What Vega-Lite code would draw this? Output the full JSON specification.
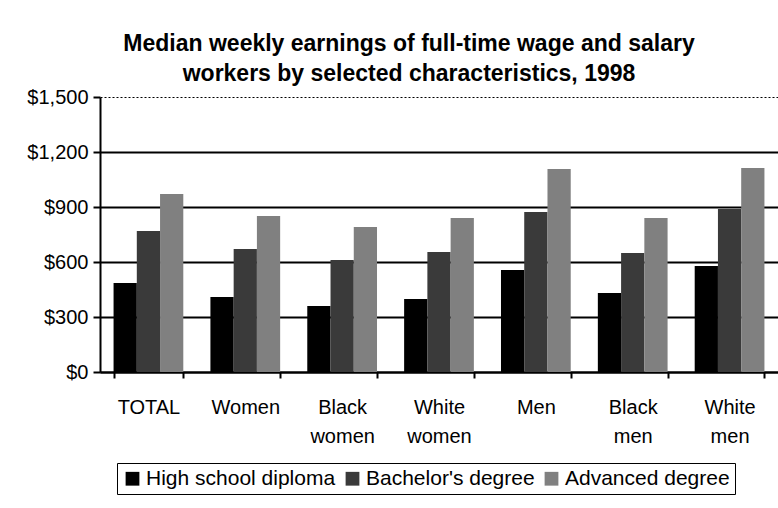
{
  "$schema": "https://vega.github.io/schema/vega-lite/v6.json",
  "width": 678,
  "height": 275,
  "autosize": {"type": "none"},
  "padding": {"left": 100, "top": 97, "right": 0, "bottom": 136},
  "background": "white",
  "title": {
    "text": ["Median weekly earnings of full-time wage and salary", "workers by selected characteristics, 1998"],
    "font": "Liberation Sans",
    "fontSize": 23,
    "fontWeight": "bold",
    "color": "black",
    "anchor": "middle",
    "dx": -30,
    "lineHeight": 30,
    "offset": 1
  },
  "data": {
    "values": [
      {"group": "TOTAL", "degree": "High school diploma", "earnings": 485},
      {"group": "TOTAL", "degree": "Bachelor's degree", "earnings": 769},
      {"group": "TOTAL", "degree": "Advanced degree", "earnings": 971},
      {"group": "Women", "degree": "High school diploma", "earnings": 409},
      {"group": "Women", "degree": "Bachelor's degree", "earnings": 671},
      {"group": "Women", "degree": "Advanced degree", "earnings": 851},
      {"group": "Black women", "degree": "High school diploma", "earnings": 360},
      {"group": "Black women", "degree": "Bachelor's degree", "earnings": 611},
      {"group": "Black women", "degree": "Advanced degree", "earnings": 791},
      {"group": "White women", "degree": "High school diploma", "earnings": 398},
      {"group": "White women", "degree": "Bachelor's degree", "earnings": 655},
      {"group": "White women", "degree": "Advanced degree", "earnings": 840},
      {"group": "Men", "degree": "High school diploma", "earnings": 556},
      {"group": "Men", "degree": "Bachelor's degree", "earnings": 873},
      {"group": "Men", "degree": "Advanced degree", "earnings": 1107},
      {"group": "Black men", "degree": "High school diploma", "earnings": 431},
      {"group": "Black men", "degree": "Bachelor's degree", "earnings": 649},
      {"group": "Black men", "degree": "Advanced degree", "earnings": 840},
      {"group": "White men", "degree": "High school diploma", "earnings": 578},
      {"group": "White men", "degree": "Bachelor's degree", "earnings": 889},
      {"group": "White men", "degree": "Advanced degree", "earnings": 1113}
    ]
  },
  "mark": {"type": "bar"},
  "encoding": {
    "x": {
      "field": "group",
      "type": "nominal",
      "sort": ["TOTAL", "Women", "Black women", "White women", "Men", "Black men", "White men"],
      "scale": {"paddingInner": 0.28, "paddingOuter": 0.14},
      "axis": {
        "title": null,
        "labelAngle": 0,
        "labelFont": "Liberation Sans",
        "labelFontSize": 20,
        "labelColor": "black",
        "labelExpr": "split(datum.label, ' ')",
        "labelLineHeight": 29,
        "labelPadding": 19,
        "labelBaseline": "top",
        "domainColor": "black",
        "domainWidth": 2,
        "tickColor": "black",
        "tickWidth": 2,
        "tickSize": 6,
        "tickBand": "extent"
      }
    },
    "xOffset": {
      "field": "degree",
      "type": "nominal",
      "sort": ["High school diploma", "Bachelor's degree", "Advanced degree"]
    },
    "y": {
      "field": "earnings",
      "type": "quantitative",
      "scale": {"domain": [0, 1500], "nice": false},
      "axis": {
        "title": null,
        "values": [0, 300, 600, 900, 1200, 1500],
        "format": "$,d",
        "labelFont": "Liberation Sans",
        "labelFontSize": 20,
        "labelColor": "black",
        "labelPadding": 5,
        "domainColor": "black",
        "domainWidth": 2,
        "tickColor": "black",
        "tickWidth": 2,
        "tickSize": 7,
        "grid": true,
        "gridColor": "black",
        "gridOpacity": 1,
        "gridWidth": {"condition": {"test": "datum.value === 1500", "value": 1}, "value": 2},
        "gridDash": {"condition": {"test": "datum.value === 1500", "value": [2, 2]}, "value": []}
      }
    },
    "color": {
      "field": "degree",
      "type": "nominal",
      "sort": ["High school diploma", "Bachelor's degree", "Advanced degree"],
      "scale": {
        "domain": ["High school diploma", "Bachelor's degree", "Advanced degree"],
        "range": ["#000000", "#3a3a3a", "#808080"]
      },
      "legend": {
        "title": null,
        "orient": "none",
        "direction": "horizontal",
        "legendX": 17,
        "legendY": 366,
        "symbolType": "square",
        "symbolSize": 190,
        "symbolStrokeWidth": 0,
        "symbolOffset": 0,
        "labelFont": "Liberation Sans",
        "labelFontSize": 21,
        "labelLimit": 400,
        "labelColor": "black",
        "labelOffset": 3,
        "columnPadding": 6,
        "strokeColor": "black",
        "padding": 5
      }
    }
  },
  "config": {
    "view": {"stroke": null}
  }
}
